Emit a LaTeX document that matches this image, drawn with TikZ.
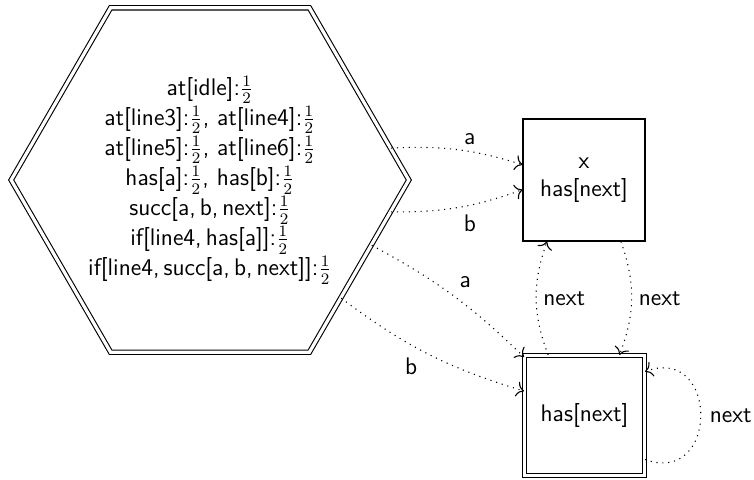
\documentclass[tikz,border=0pt]{standalone}
\usepackage{amsmath}
\usepackage{tikz}
\usetikzlibrary{shapes.geometric}
\usetikzlibrary{arrows.meta}

\begin{document}
\begin{tikzpicture}[x=0.5pt, y=0.5pt, font=\sffamily\large, line width=0.55pt]
\useasboundingbox (0,0) rectangle (754,-479);
\tikzset{trans/.style={-{To[scale=1.3]}, dash pattern=on 0.55pt off 2.4pt}}

\node (HEX) at (210,-180) [regular polygon, regular polygon sides=6, draw, double, double distance=1.6pt, minimum size=197pt, inner sep=0pt, align=center]
{at[idle]:$\frac{1}{2}$\\
at[line3]:$\frac{1}{2}$, at[line4]:$\frac{1}{2}$\\
at[line5]:$\frac{1}{2}$, at[line6]:$\frac{1}{2}$\\
has[a]:$\frac{1}{2}$, has[b]:$\frac{1}{2}$\\
succ[a,\,b,\,next]:$\frac{1}{2}$\\
if[line4,\,has[a]]:$\frac{1}{2}$\\
if[line4,\,succ[a,\,b,\,next]]:$\frac{1}{2}$};
\node (TOP) at (584,-180) [draw, minimum size=61pt, align=center] {x\\has[next]};
\node (BOT) at (584.5,-415.5) [draw, double, double distance=1.6pt, minimum size=60pt] {has[next]};

\draw [trans] (HEX.10) to [bend left=10] node [above, pos=0.6] {a} (TOP.166);
\draw [trans] (HEX.-10) to [bend right=10] node [below=1pt, pos=0.6] {b} (TOP.189);
\draw [trans] (HEX.-22) to [bend left=8] node [above right] {a} (BOT.136);
\draw [trans] (HEX.-42) to [bend right=10] node [below=3pt, pos=0.4] {b} (BOT.158);
\draw [trans] (BOT.121) to [bend left=20] node [right] {next} (TOP.-121);
\draw [trans] (TOP.-59) to [bend left=20] node [right] {next} (BOT.60);
\draw [trans] (BOT.-36) to [out=-20, in=20, looseness=2.3] node [right=1pt] {next} (BOT.36);

\end{tikzpicture}
\end{document}
